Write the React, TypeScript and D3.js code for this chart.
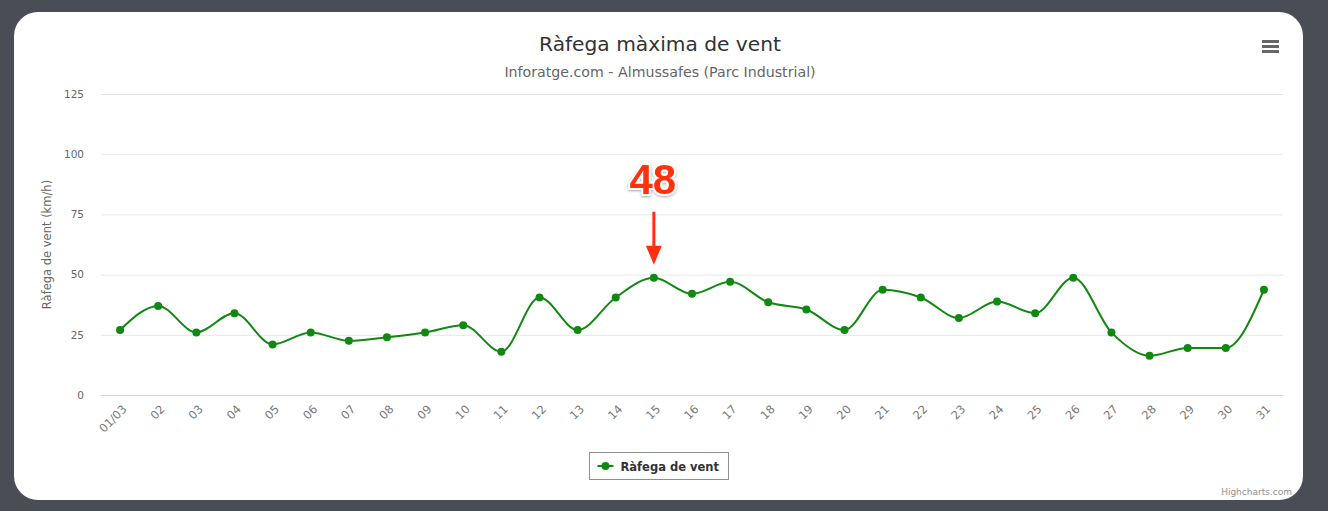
import React, { useEffect, useRef } from 'react';
import * as d3 from 'd3';

// Jours du mois de mars
const categories = ['01/03', '02', '03', '04', '05', '06', '07', '08', '09', '10', '11', '12', '13', '14', '15', '16',
  '17', '18', '19', '20', '21', '22', '23', '24', '25', '26', '27', '28', '29', '30', '31'];

// Ràfega màxima (km/h)
const gustValues = [27, 37, 26, 34, 21, 26, 22.5, 24, 26, 29, 18, 40.5, 27, 40.5, 48.7, 42,
  47, 38.5, 35.5, 27, 43.7, 40.5, 32, 38.8, 34, 48.7, 26, 16.3, 19.5, 19.5, 43.7];

const yTicks = [0, 25, 50, 75, 100, 125];

const highlightIndex = 14;
const highlightLabel = '48';

const FONT = '"DejaVu Sans", Verdana, sans-serif';

const App = () => {
  const svgRef = useRef<SVGSVGElement>(null);

  useEffect(() => {
    const width = 1328;
    const height = 511;
    const left = 101;
    const right = 1283;
    const top = 94;
    const bottom = 395;
    const green = '#118811';

    const svg = d3.select(svgRef.current);
    svg.selectAll('*').remove();
    svg.attr('width', width).attr('height', height);

    // fond et carte
    svg.append('rect').attr('width', width).attr('height', height).attr('fill', '#4a4d56');
    svg.append('rect')
      .attr('x', 14).attr('y', 12).attr('width', 1289).attr('height', 488)
      .attr('rx', 24).attr('fill', '#ffffff');

    const xScale = d3.scalePoint<string>().domain(categories).range([left, right]).padding(0.5);
    const yScale = d3.scaleLinear().domain([0, 125]).range([bottom, top]);

    // grille horizontale
    svg.append('g')
      .selectAll('line')
      .data(yTicks)
      .enter()
      .append('line')
      .attr('x1', left).attr('x2', right)
      .attr('y1', d => yScale(d) + 0.5).attr('y2', d => yScale(d) + 0.5)
      .attr('stroke', d => (d === 0 ? '#c8d2e6' : '#e6e6e6'))
      .attr('stroke-width', 1);

    // axe Y
    const yAxis = svg.append('g')
      .attr('transform', `translate(${left - 17}, 0)`)
      .attr('fill', '#666666')
      .call(d3.axisLeft(yScale).tickValues(yTicks).tickSize(0).tickPadding(0));
    yAxis.select('.domain').remove();
    yAxis.selectAll('text')
      .attr('font-family', FONT).attr('font-size', 10.5).attr('fill', '#666666');

    // axe X
    const xAxis = svg.append('g')
      .attr('transform', `translate(0, ${bottom})`)
      .call(d3.axisBottom(xScale).tickSize(0));
    xAxis.select('.domain').remove();
    xAxis.selectAll('text')
      .attr('font-family', FONT).attr('font-size', 11.5).attr('fill', '#777777')
      .attr('text-anchor', 'end')
      .attr('dy', '0.35em')
      .attr('transform', 'translate(4, 12) rotate(-45)')
      .attr('y', 0);

    // titres
    svg.append('text')
      .attr('x', 660).attr('y', 51).attr('text-anchor', 'middle')
      .attr('font-family', FONT).attr('font-size', 20.2).attr('fill', '#333333')
      .text('Ràfega màxima de vent');
    svg.append('text')
      .attr('x', 660).attr('y', 77).attr('text-anchor', 'middle')
      .attr('font-family', FONT).attr('font-size', 14.2).attr('fill', '#666666')
      .text('Inforatge.com - Almussafes (Parc Industrial)');

    svg.append('text')
      .attr('transform', `translate(51, ${(top + bottom) / 2}) rotate(-90)`)
      .attr('text-anchor', 'middle')
      .attr('font-family', FONT).attr('font-size', 11.5).attr('fill', '#666666')
      .text('Ràfega de vent (km/h)');

    // courbe
    const line = d3.line<number>()
      .x((d, i) => xScale(categories[i]) as number)
      .y(d => yScale(d))
      .curve(d3.curveMonotoneX);

    svg.append('path')
      .datum(gustValues)
      .attr('d', line)
      .attr('fill', 'none')
      .attr('stroke', green)
      .attr('stroke-width', 2);

    svg.append('g')
      .selectAll('circle')
      .data(gustValues)
      .enter()
      .append('circle')
      .attr('cx', (d, i) => xScale(categories[i]) as number)
      .attr('cy', d => yScale(d))
      .attr('r', 4)
      .attr('fill', green);

    // annotation 48
    const hx = xScale(categories[highlightIndex]) as number;
    const hy = yScale(gustValues[highlightIndex]);
    const defs = svg.append('defs');
    const filter = defs.append('filter').attr('id', 'shadow').attr('x', '-20%').attr('y', '-20%')
      .attr('width', '140%').attr('height', '140%');
    filter.append('feDropShadow').attr('dx', 0).attr('dy', 1).attr('stdDeviation', 1.2)
      .attr('flood-color', '#000').attr('flood-opacity', 0.35);

    svg.append('text')
      .attr('x', hx - 1).attr('y', hy - 84).attr('text-anchor', 'middle')
      .attr('font-family', '"Liberation Sans", Arial, sans-serif').attr('font-weight', 'bold')
      .attr('font-size', 42)
      .attr('fill', '#ff3010').attr('stroke', '#ffffff').attr('stroke-width', 4)
      .attr('paint-order', 'stroke')
      .attr('filter', 'url(#shadow)')
      .text(highlightLabel);

    const arrow = svg.append('g').attr('fill', '#ff3010');
    arrow.append('rect')
      .attr('x', hx - 1.5).attr('y', hy - 66).attr('width', 3).attr('height', 36);
    arrow.append('path')
      .attr('d', d3.line()([[hx - 8, hy - 32], [hx + 8, hy - 32], [hx, hy - 13]]) + 'Z');

    // légende
    const legend = svg.append('g').attr('transform', 'translate(589.5, 452.5)');
    legend.append('rect')
      .attr('width', 139).attr('height', 27)
      .attr('fill', '#ffffff').attr('stroke', '#909090').attr('stroke-width', 1);
    legend.append('line')
      .attr('x1', 8).attr('x2', 24).attr('y1', 13.5).attr('y2', 13.5)
      .attr('stroke', green).attr('stroke-width', 2);
    legend.append('circle').attr('cx', 16).attr('cy', 13.5).attr('r', 4).attr('fill', green);
    legend.append('text')
      .attr('x', 31).attr('y', 18)
      .attr('font-family', FONT).attr('font-size', 11.5).attr('font-weight', 'bold').attr('fill', '#333333')
      .text('Ràfega de vent');

    // menu
    const menu = svg.append('g').attr('stroke', '#666666').attr('stroke-width', 3);
    [41.5, 46.5, 51.5].forEach(y => {
      menu.append('line').attr('x1', 1262).attr('x2', 1279).attr('y1', y).attr('y2', y);
    });

    svg.append('text')
      .attr('x', 1292).attr('y', 495).attr('text-anchor', 'end')
      .attr('font-family', FONT).attr('font-size', 9).attr('fill', '#909090')
      .text('Highcharts.com');
  }, []);

  return (
    <svg ref={svgRef} style={{ position: 'absolute', left: 0, top: 0 }}></svg>
  );
};

export default App;
